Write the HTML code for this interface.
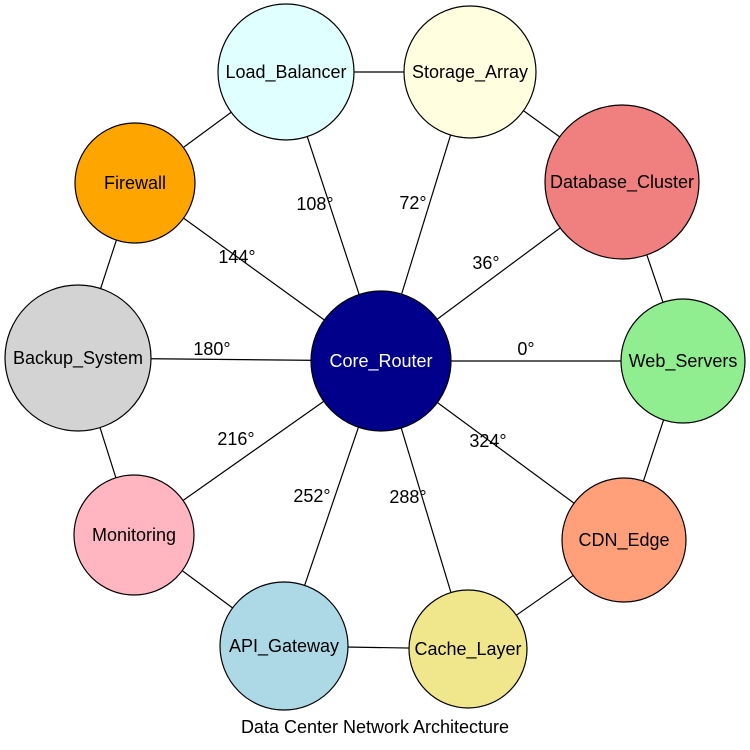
<!DOCTYPE html>
<html><head><meta charset="utf-8"><style>body{margin:0;background:#fff}svg{display:block}text{font-family:"Liberation Sans",sans-serif;font-size:18px}</style></head><body>
<svg width="750" height="750" viewBox="0 0 750 750">
<g stroke="#000" stroke-width="1.2">
<line x1="381" y1="361" x2="683" y2="361"/><line x1="381" y1="361" x2="622" y2="182"/><line x1="381" y1="361" x2="470" y2="72"/><line x1="381" y1="361" x2="286" y2="72"/><line x1="381" y1="361" x2="135" y2="183"/><line x1="381" y1="361" x2="78" y2="358"/><line x1="381" y1="361" x2="134" y2="535"/><line x1="381" y1="361" x2="284" y2="646"/><line x1="381" y1="361" x2="468" y2="649"/><line x1="381" y1="361" x2="624" y2="540"/>
<polyline fill="none" points="286,72 470,72 622,182 683,361 624,540 468,649 284,646 134,535 78,358 135,183 286,72"/>
</g>
<g stroke="#000" stroke-width="1.2">
<circle cx="381" cy="361" r="70" fill="#00008b"/>
<circle cx="683" cy="361" r="62" fill="#90ee90"/>
<circle cx="622" cy="182" r="77" fill="#f08080"/>
<circle cx="470" cy="72" r="66" fill="#ffffe0"/>
<circle cx="286" cy="72" r="68" fill="#e0ffff"/>
<circle cx="135" cy="183" r="60" fill="#ffa500"/>
<circle cx="78" cy="358" r="73" fill="#d3d3d3"/>
<circle cx="134" cy="535" r="60" fill="#ffb6c1"/>
<circle cx="284" cy="646" r="64" fill="#add8e6"/>
<circle cx="468" cy="649" r="59" fill="#f0e68c"/>
<circle cx="624" cy="540" r="62" fill="#ffa07a"/>
</g>
<g text-anchor="middle" dominant-baseline="central">
<text x="381" y="361" fill="#fff">Core_Router</text>
<text x="683" y="361">Web_Servers</text>
<text x="622" y="182">Database_Cluster</text>
<text x="470" y="72">Storage_Array</text>
<text x="286" y="72">Load_Balancer</text>
<text x="135" y="183">Firewall</text>
<text x="78" y="358">Backup_System</text>
<text x="134" y="535">Monitoring</text>
<text x="284" y="646">API_Gateway</text>
<text x="468" y="649">Cache_Layer</text>
<text x="624" y="540">CDN_Edge</text>
<text x="526" y="349">0°</text>
<text x="486" y="263">36°</text>
<text x="413" y="203">72°</text>
<text x="315" y="204">108°</text>
<text x="237" y="257">144°</text>
<text x="212" y="349">180°</text>
<text x="236" y="439">216°</text>
<text x="312" y="496">252°</text>
<text x="408" y="497">288°</text>
<text x="488" y="441">324°</text>
<text x="375" y="727">Data Center Network Architecture</text>
</g>
</svg>
</body></html>
